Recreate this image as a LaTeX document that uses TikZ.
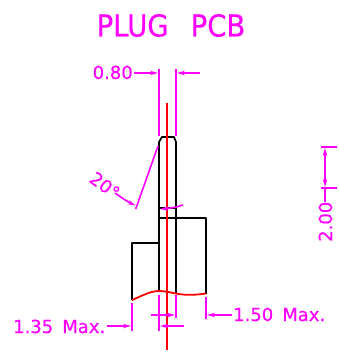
\documentclass[tikz,border=0pt]{standalone}
\usepackage{fontspec}
\setmainfont[FakeBold=0.4]{DejaVu Sans}
\usetikzlibrary{arrows.meta}
\definecolor{mag}{RGB}{255,0,255}
\tikzset{
  outline/.style={draw=black,line width=1.7pt,line join=round},
  centre/.style={draw=red,line width=1.6pt},
  wave/.style={draw=red,line width=1.8pt},
  dimline/.style={draw=mag,line width=1.6pt},
  dimarrow/.style={dimline,-{Stealth[length=8pt,width=4.5pt]}},
  label/.style={text=mag,inner sep=0pt,anchor=base west,font=\fontsize{18}{18}\selectfont},
  title/.style={text=mag,inner sep=0pt,anchor=base west,yscale=-1.1,font=\fontsize{27.5}{28}\selectfont}
}
\begin{document}
\begin{tikzpicture}[x=1pt,y=-1pt]
\useasboundingbox (0,0) rectangle (338,358);
% title
\node[title,yscale=-1] (t) at (96.5,36.5) {PLUG\hspace{0.8em}PCB};
% drawing outlines
\draw[outline] (159,291) -- (159,142) -- (162,137) -- (174,137) -- (176,142) -- (176,293);
\draw[outline] (159,208) -- (176,208);
\draw[outline] (159,218) -- (206,218) -- (206,294);
\draw[outline] (132,300) -- (132,243) -- (159,243);
% centre line and break line
\draw[centre] (167,103) -- (167,350);
\draw[wave] (132,300) .. controls (142,296) and (150,291) .. (159,291) .. controls (165,291) and (170,292.5) .. (176,293.5) .. controls (185,295.5) and (196,295) .. (206,293.5);
% 0.80 dimension
\node[label] (d1) at (92.5,79) {0.80};
\draw[dimline] (159,69) -- (159,136);
\draw[dimline] (176,69) -- (176,136);
\draw[dimarrow] (134,73) -- (158,73);
\draw[dimarrow] (200,73) -- (177,73);
% 20 degree
\node[label,rotate=-37,anchor=base west] (d2) at (88,181) {20°};
\draw[dimline] (158,146) -- (135.7,209);
\draw[dimarrow] (115,193) .. controls (122,198) and (128,202) .. (135.7,205.5);
\draw[dimarrow] (183,205) .. controls (176,207.5) and (168,208.5) .. (160,209);
% 2.00
\draw[dimline] (321,147) -- (337,147);
\draw[dimline] (321,188) -- (337,188);
\draw[dimline,{Stealth[length=8pt,width=4.5pt]}-{Stealth[length=8pt,width=4.5pt]}] (325,148) -- (325,187);
\draw[dimline] (325,187) -- (325,202);
\node[label,rotate=90] (d3) at (332,242) {2.00};
% bottom dimensions
\draw[dimline] (132,303) -- (132,331);
\draw[dimarrow] (107,326) -- (131,326);
\node[label] (d4) at (13,333) {1.35\hspace{0.5em}Max.};
\draw[dimline] (206,297) -- (206,319);
\draw[dimarrow] (232,315) -- (207,315);
\node[label] (d5) at (233,321) {1.50\hspace{0.5em}Max.};
\draw[dimline] (159,295) -- (159,331);
\draw[dimline] (176,295) -- (176,318);
\draw[dimarrow] (151,315) -- (175,315);
\draw[dimarrow] (184,326) -- (160,326);
\end{tikzpicture}
\end{document}
